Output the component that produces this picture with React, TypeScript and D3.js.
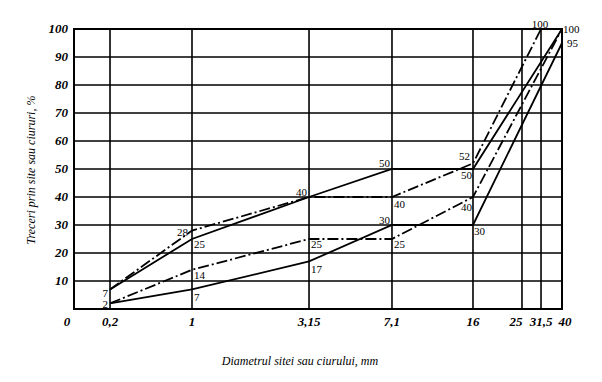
import React from "react";
import * as d3 from "d3";

// Sieve sizes (mm) on the x axis
const sieveSizes = [0, 0.2, 1, 3.15, 7.1, 16, 25, 31.5, 40];
const sieveTickLabels = ["0", "0,2", "1", "3,15", "7,1", "16", "25", "31,5", "40"];
// relative position of each sieve along the (non-uniform) x axis
const sieveAxisFractions = [0, 0.0738, 0.2418, 0.4816, 0.6516, 0.8176, 0.918, 0.957, 1];

const yTicks = [10, 20, 30, 40, 50, 60, 70, 80, 90, 100];

// Curves: passing percentages
const upperSolidX = [0.2, 1, 3.15, 7.1, 16, 40];
const upperSolidY = [7, 25, 40, 50, 50, 100];
const upperDashX = [0.2, 1, 3.15, 7.1, 16, 31.5];
const upperDashY = [7, 28, 40, 40, 52, 100];
const lowerDashX = [0.2, 1, 3.15, 7.1, 16, 40];
const lowerDashY = [2, 14, 25, 25, 40, 100];
const lowerSolidX = [0.2, 1, 3.15, 7.1, 16, 40];
const lowerSolidY = [2, 7, 17, 30, 30, 95];

// Point labels
const labelSieve = [0.2, 0.2, 1, 1, 1, 1, 3.15, 3.15, 3.15, 7.1, 7.1, 7.1, 7.1, 16, 16, 16, 16, 31.5, 40, 40];
const labelValue = [7, 2, 28, 25, 14, 7, 40, 25, 17, 50, 40, 30, 25, 52, 50, 40, 30, 100, 100, 95];
// layout of the labels (offsets from point)
const labelLayout: { dx: number; dy: number; anchor: string }[] = [
  { dx: -2, dy: 8, anchor: "end" },
  { dx: -2, dy: 5, anchor: "end" },
  { dx: -4, dy: 5, anchor: "end" },
  { dx: 2, dy: 9, anchor: "start" },
  { dx: 2, dy: 9, anchor: "start" },
  { dx: 2, dy: 12, anchor: "start" },
  { dx: -2, dy: -1, anchor: "end" },
  { dx: 2, dy: 9, anchor: "start" },
  { dx: 2, dy: 12, anchor: "start" },
  { dx: -2, dy: -2, anchor: "end" },
  { dx: 2, dy: 11, anchor: "start" },
  { dx: -2, dy: -1, anchor: "end" },
  { dx: 2, dy: 9, anchor: "start" },
  { dx: -3, dy: -3, anchor: "end" },
  { dx: -1, dy: 10, anchor: "end" },
  { dx: -1, dy: 14, anchor: "end" },
  { dx: 1, dy: 10, anchor: "start" },
  { dx: -1, dy: -1, anchor: "middle" },
  { dx: 1, dy: 4, anchor: "start" },
  { dx: 5, dy: 4, anchor: "start" },
];
const tickLabelShift = [0, 0, 0, 0, 0, 0, -6, 0, 3];

const W = 602;
const H = 382;
const M = { left: 74, right: 40, top: 29, bottom: 73 };

const serif = "'Liberation Serif', 'Times New Roman', serif";

export default function App() {
  const pw = W - M.left - M.right;
  const ph = H - M.top - M.bottom;
  const x = d3
    .scaleLinear()
    .domain(sieveSizes)
    .range(sieveAxisFractions.map((f) => M.left + f * pw));
  const y = d3.scaleLinear().domain([0, 100]).range([M.top + ph, M.top]);

  const line = d3
    .line<[number, number]>()
    .x((d) => x(d[0]))
    .y((d) => y(d[1]));

  const curves = [
    { xs: upperSolidX, ys: upperSolidY, dash: null },
    { xs: upperDashX, ys: upperDashY, dash: "11,3,2,3" },
    { xs: lowerDashX, ys: lowerDashY, dash: "11,3,2,3" },
    { xs: lowerSolidX, ys: lowerSolidY, dash: null },
  ];

  return (
    <svg
      width={W}
      height={H}
      style={{ position: "absolute", left: 0, top: 0, background: "#fff" }}
    >
      <rect x={0} y={0} width={W} height={H} fill="#fff" />
      {/* grid */}
      {yTicks.map((t) => (
        <line
          key={"gy" + t}
          x1={M.left}
          x2={M.left + pw}
          y1={y(t)}
          y2={y(t)}
          stroke="#000"
          strokeWidth={1.6}
        />
      ))}
      {sieveSizes.slice(1).map((s) => (
        <line
          key={"gx" + s}
          x1={x(s)}
          x2={x(s)}
          y1={M.top}
          y2={M.top + ph}
          stroke="#000"
          strokeWidth={1.6}
        />
      ))}
      <rect
        x={M.left}
        y={M.top}
        width={pw}
        height={ph}
        fill="none"
        stroke="#000"
        strokeWidth={2}
      />
      {/* curves */}
      {curves.map((c, i) => (
        <path
          key={"c" + i}
          d={line(c.xs.map((v, j) => [v, c.ys[j]] as [number, number])) || ""}
          fill="none"
          stroke="#000"
          strokeWidth={1.8}
          strokeDasharray={c.dash || undefined}
        />
      ))}
      {/* point labels */}
      {labelSieve.map((s, i) => (
        <text
          key={"l" + i}
          x={x(s) + labelLayout[i].dx}
          y={y(labelValue[i]) + labelLayout[i].dy}
          textAnchor={labelLayout[i].anchor}
          style={{ fontFamily: serif, fontSize: 11 }}
          fill="#000"
        >
          {labelValue[i]}
        </text>
      ))}
      {/* y tick labels */}
      {yTicks.map((t) => (
        <text
          key={"ty" + t}
          x={M.left - 6}
          y={y(t) + 4}
          textAnchor="end"
          style={{ fontFamily: serif, fontStyle: "italic", fontWeight: "bold", fontSize: 13 }}
          fill="#000"
        >
          {t}
        </text>
      ))}
      {/* x tick labels */}
      {sieveSizes.map((s, i) => (
        <text
          key={"tx" + i}
          x={(i === 0 ? x(s) - 7 : x(s)) + tickLabelShift[i]}
          y={M.top + ph + 17}
          textAnchor="middle"
          style={{ fontFamily: serif, fontStyle: "italic", fontWeight: "bold", fontSize: 13 }}
          fill="#000"
        >
          {sieveTickLabels[i]}
        </text>
      ))}
      {/* axis titles */}
      <text
        x={300}
        y={365}
        textAnchor="middle"
        style={{ fontFamily: serif, fontStyle: "italic", fontSize: 12 }}
        fill="#000"
      >
        Diametrul sitei sau ciurului, mm
      </text>
      <text
        transform={`translate(35,170) rotate(-90)`}
        textAnchor="middle"
        style={{ fontFamily: serif, fontStyle: "italic", fontSize: 12 }}
        fill="#000"
      >
        Treceri prin site sau ciururi, %
      </text>
    </svg>
  );
}
